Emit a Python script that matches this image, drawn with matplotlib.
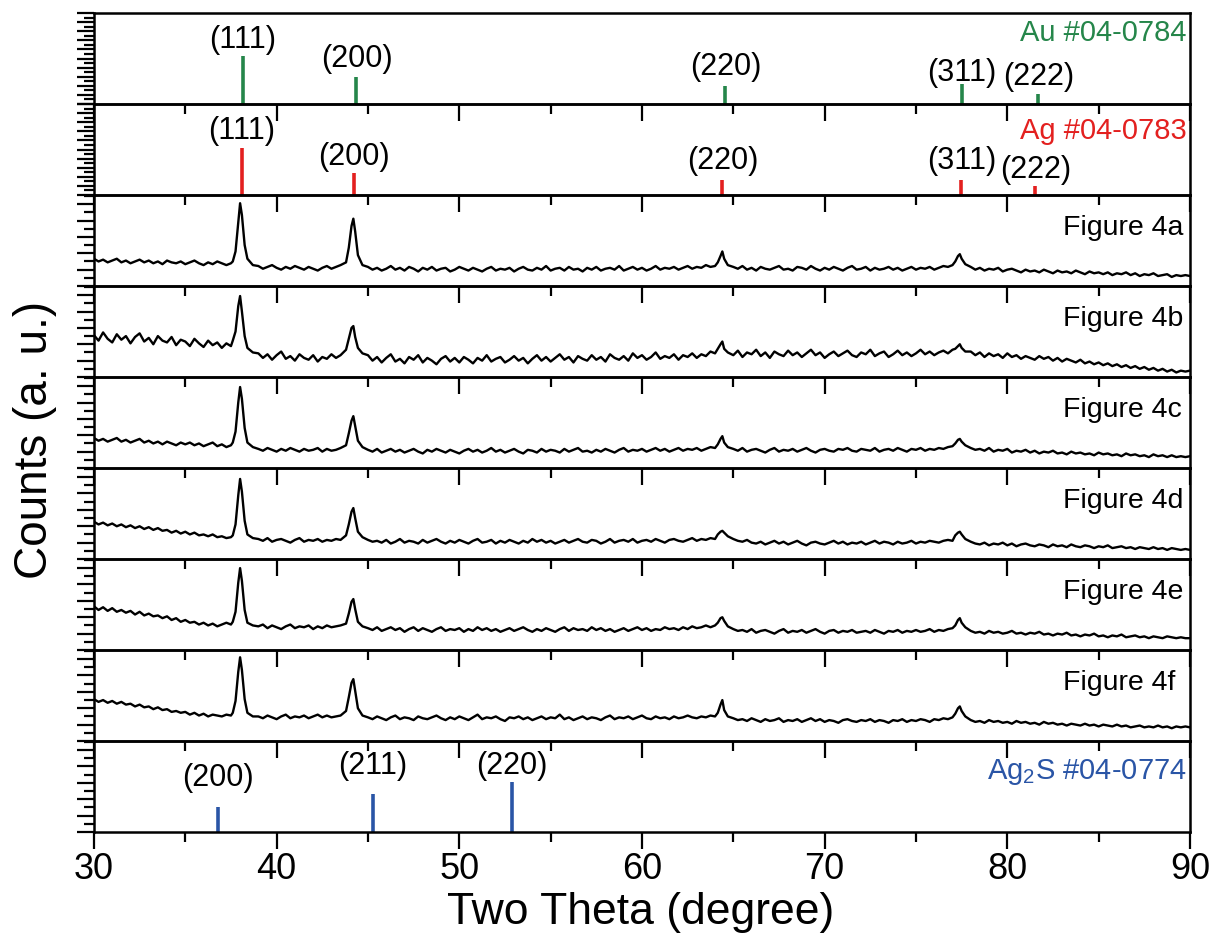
import numpy as np
import matplotlib.pyplot as plt
from matplotlib.ticker import MultipleLocator

plt.rcParams['font.family'] = ['Liberation Sans', 'DejaVu Sans']

# sampling positions (2theta, degree): baseline every 0.25, finer around the peaks
two_theta = np.concatenate([
    np.arange(30, 37.51, 0.25),
    [37.6, 37.75, 37.9, 38.0, 38.1, 38.25, 38.4, 38.7],
    np.arange(39, 43.51, 0.25),
    [43.8, 43.95, 44.1, 44.2, 44.3, 44.45, 44.7],
    np.arange(45, 64.01, 0.25),
    [64.15, 64.3, 64.4, 64.5, 64.7],
    np.arange(65, 77.01, 0.25),
    [77.15, 77.3, 77.4, 77.5, 77.7],
    np.arange(78, 90.01, 0.25),
])

# measured patterns, counts in % of the panel height
fig4a = [30, 27, 29, 26, 28, 30, 26, 28, 25, 27,
         29, 26, 28, 25, 27, 24, 28, 26, 25, 27,
         24, 26, 28, 25, 23, 26, 24, 27, 25, 23,
         25,
         27, 38, 70, 91, 78, 45, 30, 23,
         22, 19, 21, 23, 20, 18, 21, 19, 22, 20,
         18, 21, 19, 17, 20, 22, 19, 21, 23,
         26, 42, 66, 74, 60, 34, 23,
         21, 18, 20, 17, 19, 22, 18, 20, 17, 21,
         19, 16, 20, 18, 21, 17, 19, 20, 16, 18,
         21, 19, 17, 20, 18, 16, 19, 21, 17, 19,
         18, 20, 16, 19, 21, 18, 17, 20, 18, 22,
         17, 19, 20, 17, 21, 18, 19, 16, 20, 18,
         21, 17, 19, 20, 18, 22, 17, 19, 21, 18,
         20, 17, 19, 22, 18, 20, 19, 21, 18, 20,
         22, 19, 21, 20, 23, 21, 22,
         26, 33, 38, 30, 23,
         21, 19, 22, 18, 20, 17, 21, 19, 18, 20,
         22, 18, 19, 17, 21, 20, 18, 22, 19, 17,
         20, 18, 21, 19, 17, 20, 22, 18, 19, 21,
         17, 20, 18, 19, 21, 18, 20, 17, 19, 21,
         18, 20, 19, 21, 18, 20, 22, 21, 23,
         27, 33, 35, 30, 24,
         21, 18, 20, 17, 19, 18, 20, 16, 18, 19,
         17, 15, 18, 16, 17, 15, 18, 16, 14, 17,
         15, 16, 14, 17, 15, 13, 16, 14, 15, 13,
         15, 12, 14, 13, 15, 12, 14, 11, 13, 12,
         14, 11, 12, 13, 10, 12, 11, 12, 11]
fig4b = [46, 40, 49, 42, 38, 47, 41, 45, 37, 44,
         48, 39, 43, 36, 45, 40, 38, 44, 35, 41,
         39, 34, 42, 37, 33, 40, 35, 38, 32, 37,
         34,
         40, 50, 78, 89, 72, 45, 32, 27,
         26, 21, 25, 19, 24, 28, 20, 23, 18, 25,
         21, 19, 24, 17, 22, 20, 25, 21, 24,
         30, 42, 54, 56, 44, 32, 26,
         24, 18, 22, 16, 21, 25, 17, 20, 15, 22,
         19, 24, 16, 21, 18, 14, 20, 23, 17, 21,
         16, 22, 19, 15, 21, 18, 24, 17, 20, 22,
         16, 19, 23, 18, 21, 15, 20, 24, 18, 22,
         17, 21, 25, 19, 22, 16, 23, 20, 18, 24,
         19, 22, 17, 25, 21, 19, 23, 18, 26, 21,
         24, 19, 22, 27, 20, 23, 21, 25, 19, 24,
         22, 26, 21, 25, 23, 28, 26,
         31, 36, 39, 31, 27,
         24, 29, 22, 27, 25, 30, 23, 27, 21, 28,
         25, 23, 29, 24, 27, 22, 26, 30, 24, 27,
         21, 25, 28, 23, 26, 29, 24, 22, 27, 25,
         30, 23, 26, 28, 22, 25, 29, 24, 27, 23,
         26, 30, 25, 28, 24, 27, 29, 26, 30,
         31, 34, 36, 32, 28,
         28, 24, 27, 22, 26, 23, 25, 21, 26, 22,
         24, 20, 23, 21, 19, 23, 20, 22, 18, 21,
         17, 20, 18, 16, 19, 15, 17, 14, 16, 13,
         15, 12, 14, 11, 13, 10, 12, 9, 11, 8,
         10, 7, 9, 6, 8, 5, 7, 6, 7]
fig4c = [33, 30, 32, 29, 31, 33, 29, 31, 28, 30,
         32, 28, 30, 27, 29, 26, 29, 27, 25, 28,
         26, 28, 25, 27, 24, 26, 28, 24, 26, 23,
         25,
         28, 40, 72, 89, 76, 44, 28, 23,
         21, 19, 22, 20, 18, 21, 19, 22, 20, 18,
         21, 19, 20, 22, 18, 21, 19, 20, 22,
         25, 38, 52, 57, 46, 30, 23,
         20, 18, 21, 17, 19, 21, 18, 20, 17, 19,
         21, 18, 16, 20, 18, 21, 19, 17, 20, 18,
         16, 19, 21, 18, 20, 17, 19, 22, 18, 20,
         17, 19, 21, 18, 16, 20, 19, 17, 21, 18,
         20, 19, 17, 21, 18, 20, 22, 18, 19, 17,
         20, 18, 21, 19, 17, 20, 22, 18, 20, 19,
         21, 18, 20, 22, 19, 21, 18, 20, 22, 19,
         21, 20, 22, 19, 21, 23, 22,
         26, 32, 35, 28, 23,
         21, 19, 22, 18, 20, 21, 19, 17, 20, 22,
         18, 20, 19, 21, 18, 20, 22, 19, 17, 20,
         21, 19, 18, 21, 20, 22, 19, 18, 21, 20,
         19, 22, 18, 20, 21, 19, 22, 20, 18, 21,
         20, 22, 19, 21, 20, 22, 21, 23, 24,
         27, 31, 32, 29, 25,
         22, 20, 21, 19, 22, 18, 20, 19, 21, 17,
         19, 18, 20, 17, 19, 16, 18, 17, 19, 16,
         17, 15, 18, 16, 17, 15, 16, 14, 17, 15,
         16, 14, 15, 13, 16, 14, 15, 13, 14, 12,
         15, 13, 14, 12, 14, 12, 13, 12, 13]
fig4d = [41, 38, 40, 37, 39, 36, 38, 35, 37, 34,
         36, 33, 35, 32, 34, 31, 32, 29, 31, 28,
         30, 27, 29, 26, 27, 25, 27, 24, 25, 23,
         24,
         26, 38, 70, 88, 74, 42, 27, 23,
         22, 20, 23, 19, 21, 22, 20, 18, 21, 23,
         19, 21, 20, 22, 19, 21, 20, 22, 21,
         26, 38, 52, 56, 45, 30, 24,
         21, 19, 20, 18, 21, 17, 19, 22, 18, 20,
         19, 17, 21, 18, 20, 22, 19, 17, 20, 18,
         21, 19, 17, 20, 22, 18, 19, 21, 17, 20,
         18, 21, 19, 17, 20, 18, 22, 19, 21, 18,
         20, 17, 19, 21, 18, 20, 22, 19, 18, 21,
         20, 17, 19, 22, 18, 20, 21, 19, 22, 18,
         20, 21, 19, 22, 20, 18, 21, 22, 20, 19,
         21, 23, 20, 22, 21, 23, 22,
         27, 30, 31, 29, 25,
         22, 20, 19, 21, 18, 17, 19, 16, 18, 20,
         17, 19, 16, 18, 20, 17, 15, 18, 19, 17,
         16, 18, 20, 17, 19, 16, 18, 17, 19, 16,
         18, 20, 17, 19, 18, 16, 19, 17, 18, 20,
         17, 19, 18, 20, 19, 18, 20, 21, 20,
         26, 29, 30, 27, 22,
         19, 17, 16, 18, 15, 17, 16, 18, 15, 17,
         14, 16, 17, 15, 14, 16, 15, 13, 16, 14,
         15, 13, 16, 14, 13, 15, 14, 12, 14, 13,
         15, 12, 13, 14, 12, 13, 11, 13, 12, 11,
         13, 11, 12, 10, 12, 11, 10, 11, 10]
fig4e = [48, 44, 47, 43, 46, 42, 44, 41, 43, 39,
         42, 38, 40, 37, 38, 35, 37, 33, 35, 31,
         33, 30, 31, 28, 30, 27, 29, 26, 28, 30,
         28,
         31, 42, 74, 90, 76, 44, 30, 27,
         26, 28, 24, 27, 25, 23, 26, 28, 24, 26,
         25, 27, 23, 26, 24, 27, 25, 26, 27,
         29, 40, 53, 56, 45, 31, 26,
         24, 22, 25, 21, 23, 25, 22, 24, 20, 23,
         25, 21, 24, 22, 20, 23, 25, 21, 23, 22,
         24, 20, 23, 21, 25, 22, 24, 21, 23, 20,
         22, 24, 21, 23, 25, 22, 20, 23, 21, 24,
         22, 20, 23, 25, 21, 24, 22, 23, 21, 25,
         22, 24, 21, 23, 20, 22, 24, 21, 23, 25,
         22, 24, 21, 23, 22, 25, 23, 24, 22, 25,
         23, 26, 24, 25, 27, 25, 27,
         30, 35, 36, 32, 26,
         23, 21, 22, 20, 23, 19, 21, 22, 20, 18,
         21, 23, 19, 21, 20, 22, 19, 21, 23, 20,
         18, 21, 22, 19, 21, 20, 22, 19, 20, 21,
         19, 22, 20, 18, 21, 20, 22, 19, 21, 20,
         22, 20, 21, 23, 20, 22, 21, 23, 24,
         27, 33, 35, 30, 25,
         21, 19, 20, 18, 21, 19, 20, 18, 19, 21,
         18, 19, 17, 19, 18, 20, 17, 18, 16, 18,
         17, 19, 16, 17, 15, 17, 16, 18, 15, 16,
         14, 16, 15, 17, 14, 15, 16, 14, 15, 13,
         15, 14, 13, 15, 14, 13, 14, 13, 13]
fig4f = [46, 43, 45, 42, 44, 41, 43, 40, 41, 38,
         40, 37, 38, 35, 37, 34, 35, 32, 33, 31,
         32, 29, 31, 28, 30, 27, 29, 28, 27, 29,
         28,
         31, 44, 76, 92, 78, 46, 31, 27,
         27, 25, 28, 26, 24, 27, 29, 25, 27, 26,
         28, 25, 27, 29, 26, 28, 26, 27, 28,
         33, 48, 64, 68, 55, 36, 28,
         26, 24, 27, 25, 23, 26, 28, 24, 26, 25,
         23, 27, 25, 24, 26, 28, 25, 23, 26, 24,
         27, 25, 23, 26, 29, 24, 26, 25, 27, 24,
         22, 26, 25, 27, 24, 26, 23, 25, 27, 24,
         26, 25, 29, 24, 26, 23, 25, 27, 24, 26,
         25, 23, 26, 28, 24, 26, 25, 27, 24, 26,
         28, 25, 24, 27, 25, 26, 24, 27, 25, 26,
         28, 26, 25, 27, 26, 28, 27,
         31, 40, 45, 34, 27,
         25, 23, 24, 22, 25, 23, 21, 24, 22, 23,
         25, 21, 23, 22, 24, 21, 23, 25, 22, 24,
         21, 23, 22, 20, 23, 24, 22, 21, 23, 22,
         24, 21, 23, 22, 20, 23, 22, 24, 21, 23,
         22, 24, 23, 21, 24, 23, 25, 24, 26,
         30, 36, 38, 33, 27,
         23, 21, 22, 20, 23, 21, 22, 20, 21, 19,
         22, 20, 21, 19, 20, 18, 21, 19, 20, 18,
         19, 17, 19, 18, 17, 19, 17, 18, 16, 18,
         17, 16, 18, 16, 17, 15, 16, 17, 15, 16,
         15, 17, 15, 16, 14, 16, 15, 16, 15]
patterns = [fig4a, fig4b, fig4c, fig4d, fig4e, fig4f]
pattern_names = ['Figure 4a', 'Figure 4b', 'Figure 4c', 'Figure 4d', 'Figure 4e', 'Figure 4f']

# reference cards
au_pos = [38.15, 44.37, 64.57, 77.52, 81.7]
au_int = [53, 30, 20, 22, 11]
ag_pos = [38.08, 44.24, 64.4, 77.48, 81.53]
ag_int = [52, 24, 17, 17, 10]
ag2s_pos = [36.77, 45.28, 52.88]
ag2s_int = [27, 42, 55]
au_hkl = ['(111)', '(200)', '(220)', '(311)', '(222)']
ag_hkl = ['(111)', '(200)', '(220)', '(311)', '(222)']
ag2s_hkl = ['(200)', '(211)', '(220)']
au_lab_y = [0.70, 0.50, 0.41, 0.34, 0.30]
ag_lab_y = [0.70, 0.42, 0.37, 0.37, 0.28]
ag2s_lab_y = [0.59, 0.73, 0.73]

green = '#25864a'
red = '#e3201f'
blue = '#2a55a6'

for name, y in zip(pattern_names, patterns):
    if len(y) != len(two_theta):
        raise ValueError('%s has %d points, grid has %d' % (name, len(y), len(two_theta)))

fig = plt.figure(figsize=(12.17, 9.38), dpi=100)
axes = fig.subplots(9, 1, sharex=True)
fig.subplots_adjust(left=0.0772, right=0.9778, top=0.9861, bottom=0.1130, hspace=0)

for ax in axes:
    ax.patch.set_visible(False)
    ax.set_xlim(30, 90)
    ax.set_ylim(0, 100)
    ax.xaxis.set_major_locator(MultipleLocator(10))
    ax.xaxis.set_minor_locator(MultipleLocator(5))
    ax.tick_params(which='major', direction='out', length=12, width=1.6)
    ax.tick_params(which='minor', direction='out', length=7, width=1.6)
    ax.tick_params(labelleft=False, top=False, right=False)
    for s in ax.spines.values():
        s.set_linewidth(1.8)

# Au and Ag cards
for ax, pos, inten, hkl, ly, col, name, ny in [
        (axes[0], au_pos, au_int, au_hkl, au_lab_y, green, 'Au #04-0784', 0.78),
        (axes[1], ag_pos, ag_int, ag_hkl, ag_lab_y, red, 'Ag #04-0783', 0.70)]:
    ax.vlines(pos, 0, inten, color=col, lw=2.6)
    ax.yaxis.set_major_locator(MultipleLocator(10))
    ax.yaxis.set_minor_locator(MultipleLocator(5))
    for p, t, y in zip(pos, hkl, ly):
        ax.text(p, y, t, transform=ax.get_xaxis_transform(), ha='center', va='center', fontsize=22)
    ax.text(0.997, ny, name, transform=ax.transAxes, ha='right', va='center', fontsize=21, color=col)

# XRD patterns
for ax, y, name in zip(axes[2:8], patterns, pattern_names):
    ax.plot(two_theta, y, color='black', lw=1.7)
    ax.yaxis.set_major_locator(MultipleLocator(18))
    ax.yaxis.set_minor_locator(MultipleLocator(9))
    ax.text(0.884, 0.64, name, transform=ax.transAxes, ha='left', va='center', fontsize=20.5)

# Ag2S card
ax = axes[8]
ax.vlines(ag2s_pos, 0, ag2s_int, color=blue, lw=2.6)
ax.yaxis.set_major_locator(MultipleLocator(18))
ax.yaxis.set_minor_locator(MultipleLocator(9))
for p, t, y in zip(ag2s_pos, ag2s_hkl, ag2s_lab_y):
    ax.text(p, y, t, transform=ax.get_xaxis_transform(), ha='center', va='center', fontsize=22)
ax.text(0.997, 0.66, r'Ag$_\mathregular{2}$S #04-0774', transform=ax.transAxes,
        ha='right', va='center', fontsize=21, color=blue)
ax.tick_params(axis='x', labelsize=26, pad=2.5)

fig.text(0.526, 1 - 912 / 938, 'Two Theta (degree)', ha='center', va='center', fontsize=32)
fig.text(35 / 1217, 1 - 440 / 938, 'Counts (a. u.)', ha='center', va='center', rotation=90, fontsize=33)

fig.savefig('out.png', dpi=100)
